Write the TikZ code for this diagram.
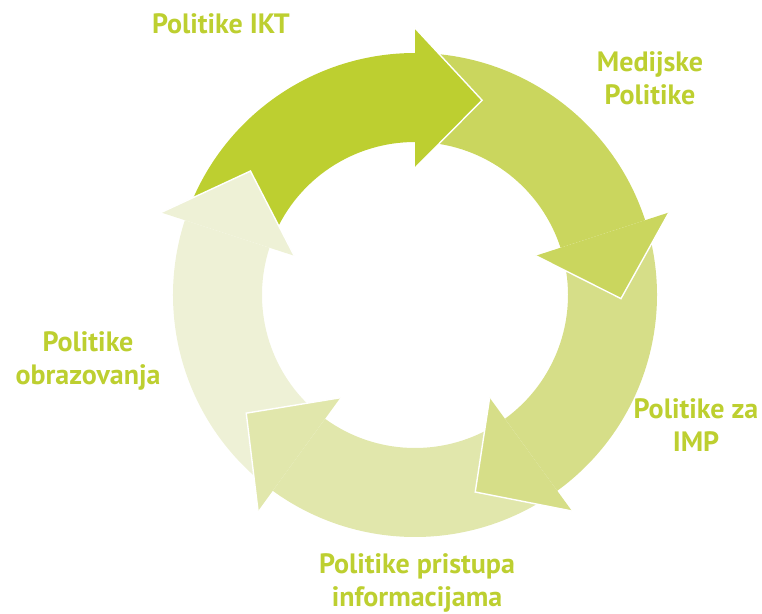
\documentclass[tikz,border=0pt]{standalone}
\usepackage{fontspec}
\setmainfont{PT Sans}
\definecolor{gA}{HTML}{BDCF30}
\definecolor{gB}{HTML}{CAD65E}
\definecolor{gC}{HTML}{D6DE88}
\definecolor{gD}{HTML}{E1E7AC}
\definecolor{gE}{HTML}{EEF1D6}
\tikzset{
  lbl/.style={text=gA, align=center, font=\bfseries\fontsize{28}{33}\selectfont},
}
\begin{document}
\begin{tikzpicture}[x=1pt, y=1pt]
\useasboundingbox (-415,-318) rectangle (347,295);
% bodies of the ring
\foreach \b/\c in {90/gA,18/gB,-54/gC,-126/gD,-198/gE}
{
    \pgfmathsetmacro{\a}{\b+67}
    \fill[\c] (\a:242) arc[start angle=\a, end angle=\b, radius=242]
        -- (\b:153) arc[start angle=\b, end angle=\a, radius=153] -- cycle;
}
% heads on top
\foreach \b/\c in {90/gA,18/gB,-54/gC,-126/gD,-198/gE}
{
    \fill[\c] (\b:267) -- (\b-19:206) -- (\b:127) -- cycle;
    \draw[white, line width=1.4pt, line join=miter] (\b:267) -- (\b-19:206) -- (\b:127);
}

\node[lbl] (ikt) at (-194,271) {Politike IKT};
\node[lbl] (medij) at (235,217) {Medijske\\Politike};
\node[lbl] (imp) at (281,-130) {Politike za\\IMP};
\node[lbl] (pristup) at (2,-288) {Politike pristupa\\informacijama};
\node[lbl] (obraz) at (-327,-66) {Politike\\obrazovanja};
\end{tikzpicture}
\end{document}
